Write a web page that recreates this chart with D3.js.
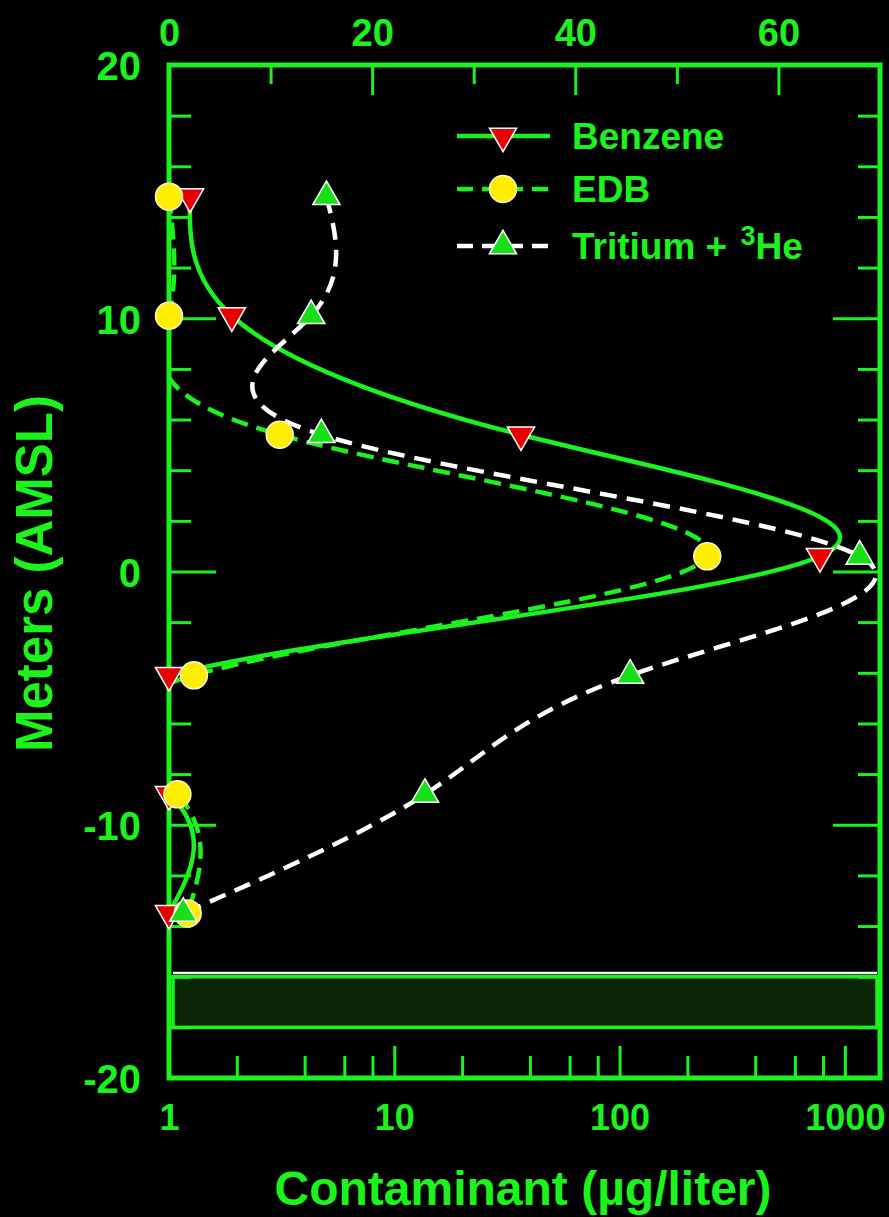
<!DOCTYPE html>
<html>
<head>
<meta charset="utf-8">
<script src="https://cdn.jsdelivr.net/npm/d3@7"></script>
<style>
  html, body { margin: 0; padding: 0; background: #000; }
  svg { display: block; }
  text { font-family: "Liberation Sans", Arial, sans-serif; font-weight: bold; }
</style>
</head>
<body>
<svg id="chart" width="889" height="1217"></svg>
<script>
// Sampling depths (m above mean sea level), shared by all three profiles
const depths = [14.8, 10.1, 5.4, 0.6, -4.1, -8.8, -13.5];

// Concentrations (µg/liter, log axis)
const benzene = [1.24, 1.9, 36.5, 775, 1.0, 1.0, 1.0];
const edb     = [1.0, 1.0, 3.1, 245, 1.29, 1.09, 1.21];
// Tritium + 3He (top linear axis)
const tritium = [15.5, 14.0, 15.0, 68.0, 45.4, 25.2, 1.4];

// Axis tick values
const yMinorTicks = d3.range(-20, 21, 2);
const yLabels = [-20, -10, 0, 10, 20];
const topMinorTicks = [10, 20, 30, 40, 50, 60];
const topLabels = [0, 20, 40, 60];
const bottomMinorTicks = [2, 4, 6, 8, 10, 20, 40, 60, 80, 100, 200, 400, 600, 800, 1000];
const bottomLabels = [1, 10, 100, 1000];

// Aquitard band and its upper surface
const bandTop = -16, bandBottom = -18, surfaceLine = -15.85;

const legendNames = ["Benzene", "EDB", "Tritium + "];

const GREEN = "#1cf21c";
const W = 889, H = 1217;
const plot = { left: 169, right: 880, top: 65, bottom: 1078 };

const svg = d3.select("#chart");
svg.append("rect").attr("width", W).attr("height", H).attr("fill", "#000");

const y = d3.scaleLinear().domain([-20, 20]).range([plot.bottom, plot.top]);
const xLog = d3.scaleLog().domain([1, 1432]).range([plot.left, plot.right]);
const xTop = d3.scaleLinear().domain([0, 70]).range([plot.left, plot.right]);

// clip region for the profile curves
svg.append("defs").append("clipPath").attr("id", "plotClip")
  .append("rect")
  .attr("x", plot.left).attr("y", plot.top)
  .attr("width", plot.right - plot.left).attr("height", plot.bottom - plot.top);

// band near the bottom
svg.append("rect")
  .attr("x", plot.left + 4).attr("width", plot.right - plot.left - 7)
  .attr("y", y(bandTop)).attr("height", y(bandBottom) - y(bandTop))
  .attr("fill", "#0a2607").attr("stroke", GREEN).attr("stroke-width", 3.5);
svg.append("line")
  .attr("x1", plot.left + 4).attr("x2", plot.right - 3)
  .attr("y1", y(surfaceLine)).attr("y2", y(surfaceLine))
  .attr("stroke", "#f4fff4").attr("stroke-width", 2.5);

const fmt = d => String(d);

function styleAxis(g) {
  g.select(".domain").remove();
  g.selectAll(".tick line").attr("stroke", GREEN).attr("stroke-width", 3);
  g.selectAll(".tick text").attr("fill", GREEN).attr("font-family", "Liberation Sans, Arial, sans-serif").attr("font-weight", "bold");
}

// left inner ticks
svg.append("g").attr("transform", `translate(${plot.left},0)`)
  .call(d3.axisRight(y).tickValues(yMinorTicks).tickSize(22).tickFormat(""))
  .call(styleAxis)
  .call(g => g.selectAll(".tick line").attr("x2", d => d % 10 === 0 ? 47 : 22));
// right inner ticks
svg.append("g").attr("transform", `translate(${plot.right},0)`)
  .call(d3.axisLeft(y).tickValues(yMinorTicks).tickSize(22).tickFormat(""))
  .call(styleAxis)
  .call(g => g.selectAll(".tick line").attr("x2", d => d % 10 === 0 ? -47 : -22));
// left labels
svg.append("g").attr("transform", `translate(${plot.left},0)`)
  .call(d3.axisLeft(y).tickValues(yLabels).tickSize(0).tickPadding(28).tickFormat(fmt))
  .call(styleAxis)
  .call(g => g.selectAll(".tick text").attr("font-size", 40).attr("dy", "0.37em"));

// top linear axis
svg.append("g").attr("transform", `translate(0,${plot.top})`)
  .call(d3.axisBottom(xTop).tickValues(topMinorTicks).tickSize(19).tickFormat(""))
  .call(styleAxis)
  .call(g => g.selectAll(".tick line").attr("y2", d => d % 20 === 0 ? 30 : 19));
svg.append("g").attr("transform", `translate(0,${plot.top})`)
  .call(d3.axisTop(xTop).tickValues(topLabels).tickSize(0).tickPadding(19).tickFormat(fmt))
  .call(styleAxis)
  .call(g => g.selectAll(".tick text").attr("font-size", 38).attr("dy", 0));

// bottom log axis
svg.append("g").attr("transform", `translate(0,${plot.bottom})`)
  .call(d3.axisTop(xLog).tickValues(bottomMinorTicks).tickSize(22).tickFormat(""))
  .call(styleAxis)
  .call(g => g.selectAll(".tick line").attr("y2", d => [10, 100, 1000].includes(d) ? -32 : -22));
svg.append("g").attr("transform", `translate(0,${plot.bottom})`)
  .call(d3.axisBottom(xLog).tickValues(bottomLabels).tickSize(0).tickPadding(52).tickFormat(fmt))
  .call(styleAxis)
  .call(g => g.selectAll(".tick text").attr("font-size", 36).attr("dy", 0));

// frame
svg.append("rect")
  .attr("x", plot.left).attr("y", plot.top)
  .attr("width", plot.right - plot.left).attr("height", plot.bottom - plot.top)
  .attr("fill", "none").attr("stroke", GREEN).attr("stroke-width", 5);

// axis titles
svg.append("text")
  .attr("x", 523).attr("y", 1205)
  .attr("text-anchor", "middle").attr("font-size", 48).attr("fill", GREEN)
  .text("Contaminant (µg/liter)");
svg.append("text")
  .attr("transform", `translate(52,${(plot.top + plot.bottom) / 2 + 2}) rotate(-90)`)
  .attr("text-anchor", "middle").attr("font-size", 51).attr("fill", GREEN)
  .text("Meters (AMSL)");

// profile data
const series = [
  { name: legendNames[0], values: benzene, x: xLog, stroke: GREEN, dash: null, marker: "down", fill: "#e80000" },
  { name: legendNames[1], values: edb, x: xLog, stroke: GREEN, dash: "17,9", marker: "circle", fill: "#ffee00" },
  { name: legendNames[2], values: tritium, x: xTop, stroke: "#ffffff", dash: "17,10", marker: "up", fill: "#18e018" }
];

const curves = svg.append("g").attr("clip-path", "url(#plotClip)");
series.forEach(s => {
  const pts = depths.map((m, i) => ({ m, v: s.values[i] }));
  const line = d3.line().x(d => s.x(d.v)).y(d => y(d.m)).curve(d3.curveNatural);
  curves.append("path").datum(pts)
    .attr("d", line)
    .attr("fill", "none")
    .attr("stroke", s.stroke)
    .attr("stroke-width", 4.5)
    .attr("stroke-dasharray", s.dash);
});

const triSize = 320;
function drawMarker(g, s, cx, cy) {
  if (s.marker === "circle") {
    g.append("circle").attr("cx", cx).attr("cy", cy).attr("r", 13.5)
      .attr("fill", s.fill).attr("stroke", "#fff6d0").attr("stroke-width", 1.5);
  } else {
    g.append("path")
      .attr("d", d3.symbol(d3.symbolTriangle, triSize)())
      .attr("transform", `translate(${cx},${cy})` + (s.marker === "down" ? " rotate(180)" : ""))
      .attr("fill", s.fill).attr("stroke", "#ffffff").attr("stroke-width", 1.5);
  }
}

const markers = svg.append("g");
series.forEach(s => {
  depths.forEach((m, i) => drawMarker(markers, s, s.x(s.values[i]), y(m)));
});

// legend
const legend = svg.append("g");
const legendRows = [136, 189, 246];
series.forEach((s, i) => {
  const ly = legendRows[i];
  legend.append("line")
    .attr("x1", 457).attr("x2", 550).attr("y1", ly).attr("y2", ly)
    .attr("stroke", s.stroke).attr("stroke-width", 4.5)
    .attr("stroke-dasharray", s.dash ? "16,9" : null);
  drawMarker(legend, s, 503, ly);
  const t = legend.append("text")
    .attr("x", 572).attr("y", ly + 13)
    .attr("font-size", 37).attr("fill", GREEN);
  t.append("tspan").text(s.name);
  if (i === 2) {
    t.append("tspan").attr("font-size", 27).attr("dx", 3).attr("dy", -14).text("3");
    t.append("tspan").attr("dy", 14).text("He");
  }
});
</script>
</body>
</html>
